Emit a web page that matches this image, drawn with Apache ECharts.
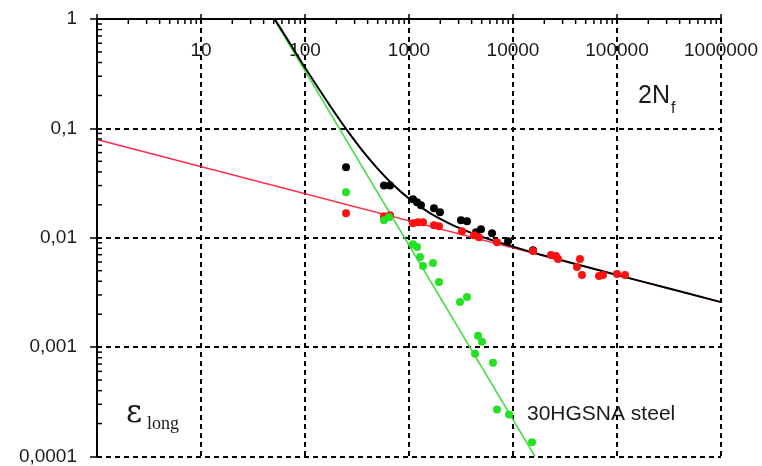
<!DOCTYPE html>
<html>
<head>
<meta charset="utf-8">
<script src="https://cdn.jsdelivr.net/npm/echarts@6/dist/echarts.min.js"></script>
<style>
  html, body { margin: 0; padding: 0; background: #fff; }
  #chart { width: 762px; height: 466px; }
</style>
</head>
<body>
<div id="chart"></div>
<script>
// Strain amplitude vs. reversals to failure (2Nf), 30HGSNA steel, log-log.

// Tick labels (index = decade exponent offset)
const xTickLabels = ['', '10', '100', '1000', '10000', '100000', '1000000'];
const yTickLabels = ['0,0001', '0,001', '0,01', '0,1', '1'];
const minorMultipliers = [2, 3, 4, 5, 6, 7, 8, 9];

// Total strain measurements [2Nf, eps]
const totalPoints = [
  [248, 0.0440], [575, 0.0301], [657, 0.0301], [1092, 0.0225], [1194, 0.0211],
  [1304, 0.0198], [1738, 0.0186], [1986, 0.0171], [3162, 0.01446], [3611, 0.01416],
  [4406, 0.01125], [4924, 0.01197], [6282, 0.01101], [8954, 0.0093], [15570, 0.0077]
];

// Elastic strain component [2Nf, eps]
const elasticPoints = [
  [248, 0.01675], [575, 0.01573], [657, 0.01606], [1092, 0.01358], [1221, 0.01387],
  [1364, 0.01387], [1738, 0.01303], [1942, 0.01276], [3234, 0.01148], [4217, 0.01056],
  [4710, 0.01012], [7017, 0.00912], [15570, 0.00755], [23190, 0.00695], [25880, 0.00680],
  [27080, 0.00638], [44060, 0.00638], [41230, 0.00540], [46050, 0.00456], [67140, 0.00447],
  [73330, 0.00456], [100000, 0.00466], [119400, 0.00456]
];

// Plastic strain component [2Nf, eps]
const plasticPoints = [
  [248, 0.0260], [575, 0.01446], [643, 0.01541], [1092, 0.00874], [1194, 0.00821],
  [1276, 0.00666], [1364, 0.00551], [1701, 0.00587], [1942, 0.00394], [3092, 0.00259],
  [3611, 0.00288], [4605, 0.00127], [5035, 0.00112], [4313, 0.00087], [6425, 0.00072],
  [7017, 0.000269], [9161, 0.000242], [15230, 0.000135]
];

// Fitted lines
const elasticLine = [[1, 0.0791], [1000000, 0.00258]];
const plasticLine = [[50.4, 1], [16290, 0.0001]];
const totalCurve = [
  [51, 1.0], [64.3, 0.706], [102, 0.3485], [174, 0.161], [271, 0.0882], [422, 0.0515],
  [657, 0.0325], [1022, 0.02244], [1592, 0.01679], [2479, 0.01341], [3861, 0.01121],
  [6012, 0.00965], [10000, 0.00829], [18200, 0.00704], [35320, 0.00594],
  [100000, 0.00457], [323600, 0.003413], [1000000, 0.00258]
];

// Minor tick values on each log axis (2..9 within every decade)
const xMinorTicks = [];
for (let k = 0; k <= 5; k++) minorMultipliers.forEach(m => xMinorTicks.push([m * Math.pow(10, k), 1]));
const yMinorTicks = [];
for (let k = -4; k <= -1; k++) minorMultipliers.forEach(m => yMinorTicks.push([1, m * Math.pow(10, k)]));

const labelFont = 'Liberation Sans, Arial, sans-serif';
const serifFont = 'DejaVu Serif, Liberation Serif, serif';
const gridDash = { color: '#000', width: 2, type: [5, 4] };

const chart = echarts.init(document.getElementById('chart'), null, { renderer: 'canvas' });

chart.setOption({
  backgroundColor: '#fff',
  animation: false,
  grid: { left: 97, top: 19, right: 41, bottom: 8 },
  xAxis: {
    type: 'log', logBase: 10, min: 1, max: 1000000, position: 'top',
    axisLine: { lineStyle: { color: '#000', width: 2 } },
    axisTick: { show: true, length: 5, lineStyle: { color: '#000', width: 1.5 } },
    axisLabel: {
      inside: true, margin: 22, color: '#1a1a1a', fontSize: 19, fontFamily: labelFont,
      formatter: v => xTickLabels[Math.round(Math.log10(v))] || ''
    },
    splitLine: { show: true, lineStyle: gridDash }
  },
  yAxis: {
    type: 'log', logBase: 10, min: 0.0001, max: 1,
    axisLine: { lineStyle: { color: '#000', width: 2 } },
    axisTick: { show: true, length: 7, lineStyle: { color: '#000', width: 1.5 } },
    axisLabel: {
      margin: 20, color: '#1a1a1a', fontSize: 19, fontFamily: labelFont,
      formatter: v => yTickLabels[Math.round(Math.log10(v)) + 4] || ''
    },
    splitLine: { show: true, lineStyle: gridDash }
  },
  series: [
    {
      type: 'custom', name: 'xMinor', data: xMinorTicks, silent: true, z: 5,
      renderItem: (params, api) => {
        const p = api.coord([api.value(0), api.value(1)]);
        return { type: 'line', shape: { x1: p[0], y1: p[1], x2: p[0], y2: p[1] + 5 },
          style: { stroke: '#000', lineWidth: 1.5 } };
      }
    },
    {
      type: 'custom', name: 'yMinor', data: yMinorTicks, silent: true, z: 5,
      renderItem: (params, api) => {
        const p = api.coord([api.value(0), api.value(1)]);
        return { type: 'line', shape: { x1: p[0], y1: p[1], x2: p[0] + 5, y2: p[1] },
          style: { stroke: '#000', lineWidth: 1.5 } };
      }
    },
    {
      type: 'line', name: 'elastic fit', data: elasticLine, showSymbol: false, z: 2,
      lineStyle: { color: '#ff2a4a', width: 1.5 }
    },
    {
      type: 'line', name: 'plastic fit', data: plasticLine, showSymbol: false, z: 2,
      lineStyle: { color: '#44dd44', width: 1.5 }
    },
    {
      type: 'line', name: 'total fit', data: totalCurve, showSymbol: false, smooth: 0.3, z: 3,
      lineStyle: { color: '#000', width: 2 }
    },
    {
      type: 'scatter', name: 'total', data: totalPoints, symbolSize: 8, z: 4,
      itemStyle: { color: '#000', opacity: 1 }
    },
    {
      type: 'scatter', name: 'elastic', data: elasticPoints, symbolSize: 8, z: 4,
      itemStyle: { color: '#ff1010', opacity: 1 }
    },
    {
      type: 'scatter', name: 'plastic', data: plasticPoints, symbolSize: 8, z: 4,
      itemStyle: { color: '#22e222', opacity: 1 }
    }
  ],
  graphic: [
    { type: 'text', x: 638, y: 84, style: { text: '2N', fontSize: 25, fontFamily: labelFont, fill: '#1a1a1a' } },
    { type: 'text', x: 671, y: 101, style: { text: 'f', fontSize: 16, fontFamily: labelFont, fill: '#1a1a1a' } },
    { type: 'text', x: 126, y: 398, style: { text: 'ε', fontSize: 31, fontFamily: serifFont, fill: '#1a1a1a' } },
    { type: 'text', x: 147, y: 415, style: { text: 'long', fontSize: 18, fontFamily: 'Liberation Serif, Times New Roman, serif', fill: '#1a1a1a' } },
    { type: 'text', x: 527, y: 404, style: { text: '30HGSNA steel', fontSize: 21, fontFamily: labelFont, fill: '#1a1a1a' } }
  ]
});
</script>
</body>
</html>
